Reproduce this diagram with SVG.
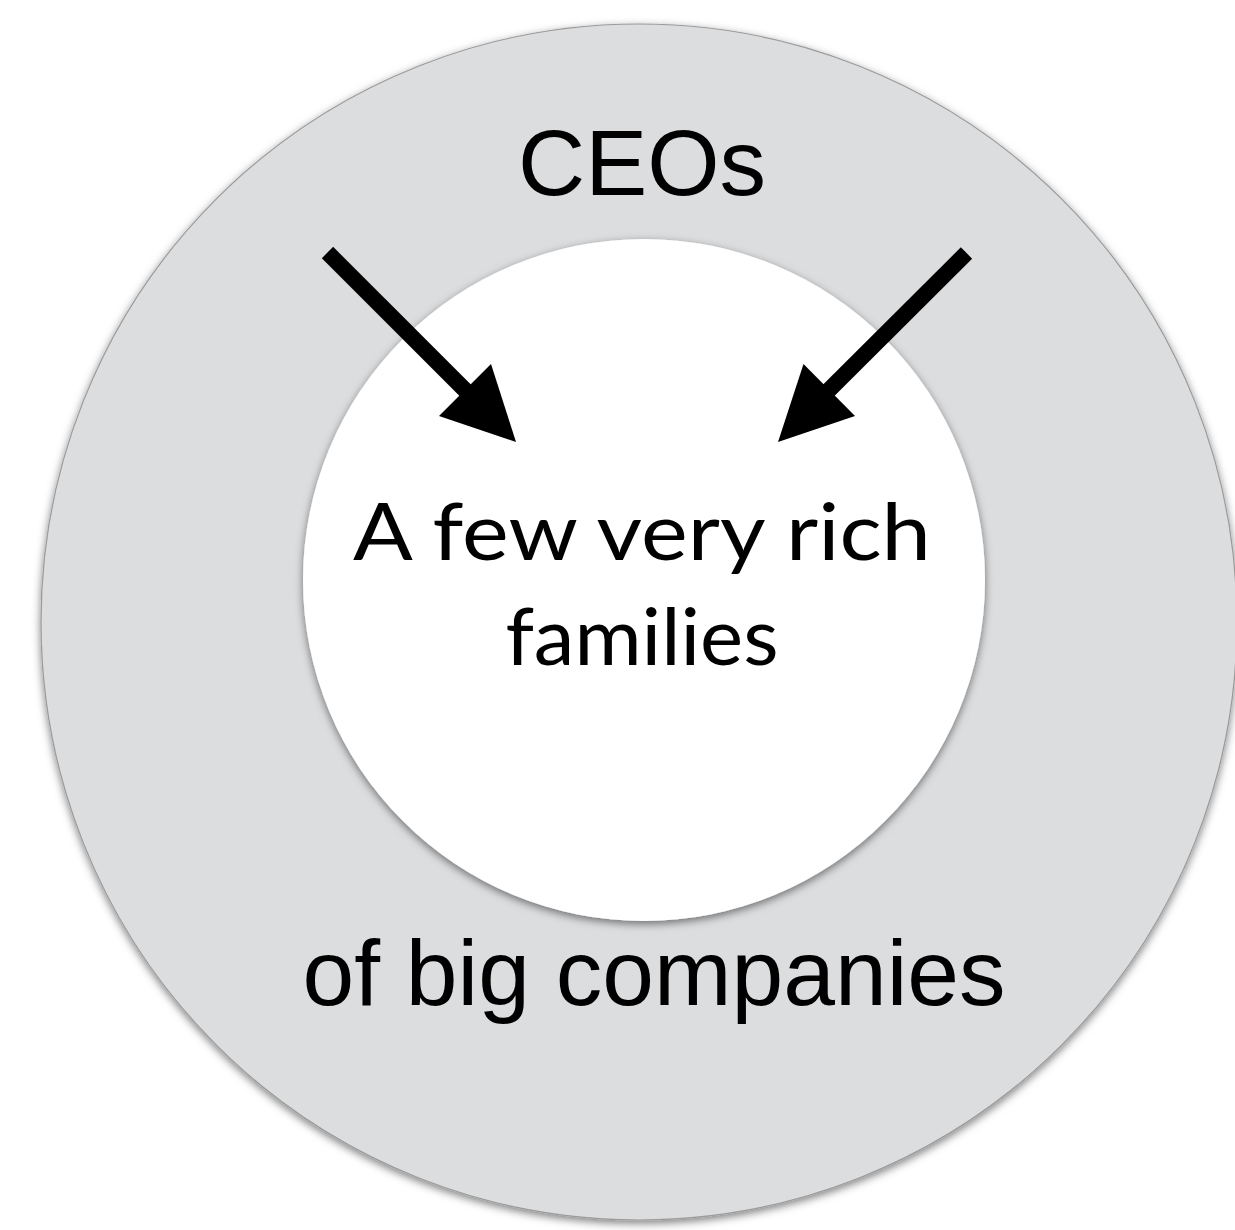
<svg xmlns="http://www.w3.org/2000/svg" width="1235" height="1230" viewBox="0 0 1235 1230">
  <style>
    .label { font-family: "Liberation Sans", Arial, sans-serif; font-size: 93px; fill: #000; text-anchor: middle; }
    .inner { font-family: Lato, "Open Sans", sans-serif; font-size: 80px; fill: #000; text-anchor: middle; }
    .shaft { stroke: #000; stroke-width: 16; fill: none; }
    .head { fill: #000; }
  </style>
  <defs>
    <filter id="shadow" x="-10%" y="-10%" width="120%" height="120%">
      <feDropShadow dx="0" dy="3" stdDeviation="4" flood-color="#000" flood-opacity="0.5"/>
    </filter>
  </defs>
  <rect width="1235" height="1230" fill="#fff"/>
  <g id="outer">
    <circle cx="639" cy="622" r="598" fill="#dcdddf" stroke="#9a9a9a" stroke-width="1.2" filter="url(#shadow)"/>
    <text class="label" x="642" y="195">CEOs</text>
    <text class="label" x="654" y="1005">of big companies</text>
  </g>
  <g id="inner">
    <circle cx="644" cy="580" r="341" fill="#ffffff" filter="url(#shadow)"/>
    <text class="inner" x="642" y="560" textLength="578" lengthAdjust="spacingAndGlyphs">A few very rich</text>
    <text class="inner" x="642" y="665" textLength="273" lengthAdjust="spacingAndGlyphs">families</text>
  </g>
  <g id="connectors">
    <line class="shaft" x1="327.5" y1="252.5" x2="468" y2="393"/>
    <polygon class="head" points="516,442 439,416 491,364"/>
    <line class="shaft" x1="966.5" y1="253" x2="826" y2="393"/>
    <polygon class="head" points="778,442 803.5,364 855,416"/>
  </g>
</svg>
